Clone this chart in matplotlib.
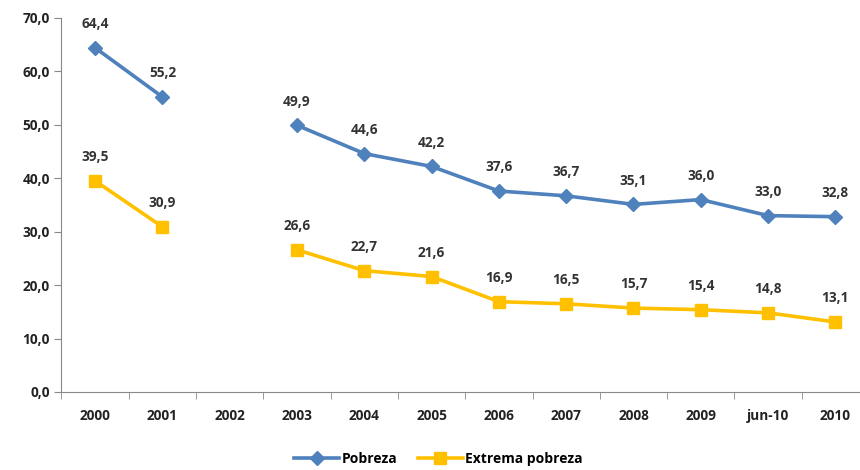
import numpy as np
import matplotlib
matplotlib.use('Agg')
import matplotlib.pyplot as plt

categorias = ['2000', '2001', '2002', '2003', '2004', '2005', '2006',
              '2007', '2008', '2009', 'jun-10', '2010']
pobreza = [64.4, 55.2, np.nan, 49.9, 44.6, 42.2, 37.6, 36.7, 35.1, 36.0, 33.0, 32.8]
extrema = [39.5, 30.9, np.nan, 26.6, 22.7, 21.6, 16.9, 16.5, 15.7, 15.4, 14.8, 13.1]
yticks = [0, 10, 20, 30, 40, 50, 60, 70]

plt.rcParams['font.family'] = ['Open Sans', 'DejaVu Sans']

fig = plt.figure(figsize=(8.6, 4.7), dpi=100)
ax = fig.add_axes([0.0715, 0.166, 0.939, 0.796])

x = np.arange(len(categorias))
azul = '#4F81BD'
amarillo = '#FFC000'
ax.plot(x, pobreza, color=azul, lw=2.6, marker='D', ms=7, label='Pobreza')
ax.plot(x, extrema, color=amarillo, lw=2.6, marker='s', ms=9, label='Extrema pobreza')

# etiquetas de datos
for serie in (pobreza, extrema):
    for xi, v in zip(x, serie):
        if not np.isnan(v):
            ax.annotate(f'{v:.1f}'.replace('.', ','), (xi, v), xytext=(0, 12),
                        textcoords='offset points', ha='center', va='bottom',
                        fontsize=9.8, fontweight='bold', color='#333333')

ax.set_xlim(-0.5, len(categorias) - 0.5)
ax.set_ylim(0, 70)
ax.set_yticks(yticks)
ax.set_yticklabels([f'{t:.1f}'.replace('.', ',') for t in yticks],
                   fontsize=9.8, fontweight='bold', color='#222222')
ax.set_xticks(x)
ax.set_xticklabels(categorias, fontsize=9.8, fontweight='bold', color='#222222')
ax.set_xticks(np.arange(-0.5, len(categorias), 1), minor=True)
ax.tick_params(axis='x', which='major', length=0, pad=12)
ax.tick_params(axis='x', which='minor', length=5, color='#888888')
ax.tick_params(axis='y', length=5, color='#888888')

for s in ['top', 'right']:
    ax.spines[s].set_visible(False)
for s in ['left', 'bottom']:
    ax.spines[s].set_color('#888888')

fig.legend(loc='center', bbox_to_anchor=(0.51, 0.023), ncol=2, frameon=False,
           prop={'size': 10, 'weight': 'bold'}, handlelength=3.2, columnspacing=1.5,
           handletextpad=0.2)

fig.savefig('out.png', dpi=100)
